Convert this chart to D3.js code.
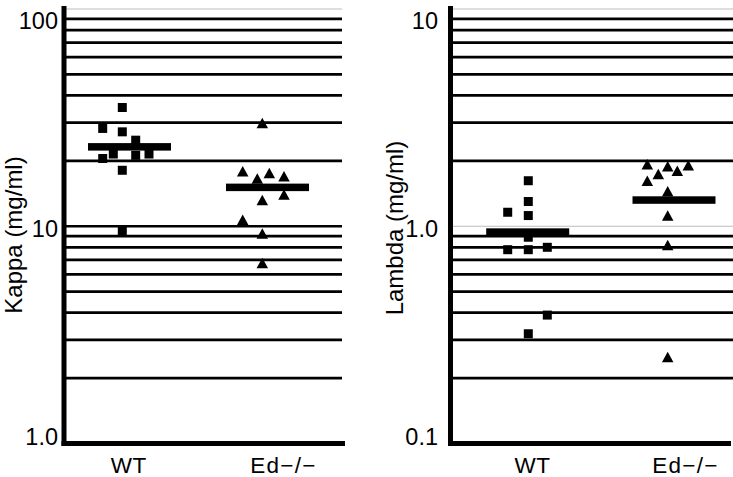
<!DOCTYPE html>
<html>
<head>
<meta charset="utf-8">
<script src="https://cdn.jsdelivr.net/npm/d3@7/dist/d3.min.js"></script>
<style>
  html, body { margin: 0; padding: 0; background: #fff; }
  svg { display: block; }
  text { font-family: "Liberation Sans", Arial, Helvetica, sans-serif; fill: #000; }
</style>
</head>
<body>
<svg id="chart" width="733" height="477"></svg>
<script>
// ---------------- DATA ----------------
const categories = ["WT", "Ed\u2212/\u2212"];

const kappaTickLabels = ["1.0", "10", "100"];
const lambdaTickLabels = ["0.1", "1.0", "10"];

const kappaWT       = [35.2, 28.2, 27.2, 24.9, 21.5, 21.2, 21.5, 20.5, 18.1, 9.5];
const kappaWTJitter = [-0.72, -2.68, -0.72, 0.62, -1.62, 0.62, 1.95, -2.68, -0.72, -0.72];
const kappaEd       = [29.9, 17.9, 16.6, 17.6, 17.0, 13.2, 14.0, 10.7, 9.25, 6.78];
const kappaEdJitter = [-0.52, -2.48, -1.02, 0.18, 1.65, -0.52, 1.65, -2.48, -0.52, -0.52];
const kappaMeans    = [23.2, 15.1];

const lambdaWT       = [1.62, 1.30, 1.16, 1.12, 0.89, 0.78, 0.78, 0.80, 0.39, 0.32];
const lambdaWTJitter = [0.06, 0.06, -2.0, 0.06, 0.06, -2.0, 0.06, 1.96, 1.96, 0.06];
const lambdaEd       = [1.93, 1.89, 1.91, 1.74, 1.80, 1.62, 1.45, 1.12, 0.82, 0.25];
const lambdaEdJitter = [-2.67, -0.63, 1.43, -1.57, 0.33, -2.67, -0.63, -0.63, -0.63, -0.63];
const lambdaMeans    = [0.94, 1.32];

// ---------------- LAYOUT ----------------
const svg = d3.select("#chart");
const TICK_FONT = 23.5, CAT_FONT = 22.5, TITLE_FONT = 24;

const panels = [
  {
    title: "Kappa (mg/ml)", domain: [1, 100], tickLabels: kappaTickLabels,
    wt: kappaWT, wtJ: kappaWTJitter, ed: kappaEd, edJ: kappaEdJitter, means: kappaMeans,
    axisX: 64, baseX0: 61.5, baseX1: 345, gridX1: 342,
    catRange: [129.5, 267.5], labelRange: [128.3, 283],
    tickEnd: 58, titleX: 13.5, titleY: 235, grayDecades: [100]
  },
  {
    title: "Lambda (mg/ml)", domain: [0.1, 10], tickLabels: lambdaTickLabels,
    wt: lambdaWT, wtJ: lambdaWTJitter, ed: lambdaEd, edJ: lambdaEdJitter, means: lambdaMeans,
    axisX: 450.5, baseX0: 448, baseX1: 731, gridX1: 733,
    catRange: [527.7, 674], labelRange: [532, 685],
    tickEnd: 438, titleX: 394, titleY: 228, grayDecades: [1, 10]
  }
];

const yTop = 9, yBottom = 443.5;

// custom symbols (bounding-box centred)
function squarePath(cx, cy, s) {
  const h = s / 2;
  return `M${cx - h},${cy - h}h${s}v${s}h${-s}Z`;
}
function trianglePath(cx, cy, w, h) {
  return `M${cx},${cy - h / 2}L${cx + w / 2},${cy + h / 2}L${cx - w / 2},${cy + h / 2}Z`;
}

panels.forEach(p => {
  const g = svg.append("g");
  const y = d3.scaleLog().domain(p.domain).range([yBottom, yTop]);
  const yLabel = d3.scaleLog().domain(p.domain).range([437, 20.5]);
  const x = d3.scalePoint().domain(categories).range(p.catRange).padding(0);
  const xLabel = d3.scalePoint().domain(categories).range(p.labelRange).padding(0);
  const jitter = d3.scaleLinear().domain([0, 1]).range([0, 10]);

  // gridlines
  const gridVals = y.ticks().filter(v => v > p.domain[0] * 1.0001);
  const isGray = v => p.grayDecades.some(d => Math.abs(v - d) / d < 1e-6);
  g.selectAll("line.grid").data(gridVals).join("line")
    .attr("class", "grid")
    .attr("x1", p.axisX).attr("x2", p.gridX1)
    .attr("y1", d => y(d)).attr("y2", d => y(d))
    .attr("stroke", d => isGray(d) ? "#bdbdbd" : "#000")
    .attr("stroke-width", d => isGray(d) ? 1.2 : 2.7);

  // axis lines
  g.append("line")
    .attr("x1", p.axisX).attr("x2", p.axisX)
    .attr("y1", 6).attr("y2", yBottom + 2.5)
    .attr("stroke", "#000").attr("stroke-width", 5);
  g.append("line")
    .attr("x1", p.baseX0).attr("x2", p.baseX1)
    .attr("y1", yBottom).attr("y2", yBottom)
    .attr("stroke", "#000").attr("stroke-width", 5);

  // y tick labels
  const tickVals = [p.domain[0], p.domain[0] * 10, p.domain[1]];
  const yAxis = d3.axisLeft(yLabel).tickValues(tickVals)
    .tickFormat((d, i) => p.tickLabels[i]).tickSize(0).tickPadding(0);
  const ya = g.append("g").attr("transform", `translate(${p.tickEnd},0)`).call(yAxis);
  ya.select(".domain").remove();
  ya.selectAll("text")
    .style("font-size", TICK_FONT + "px")
    .style("font-family", '"Liberation Sans", Arial, sans-serif')
    .attr("fill", "#000");

  // x labels
  const xAxis = d3.axisBottom(xLabel).tickSize(0).tickPadding(0);
  const xa = g.append("g").attr("transform", `translate(0,${yBottom + 13.5})`).call(xAxis);
  xa.select(".domain").remove();
  xa.selectAll("text")
    .style("font-size", CAT_FONT + "px")
    .style("font-family", '"Liberation Sans", Arial, sans-serif')
    .style("letter-spacing", (d) => d === categories[1] ? "1.3px" : "0.5px")
    .attr("fill", "#000");

  // y title
  g.append("text")
    .attr("transform", `translate(${p.titleX},${p.titleY}) rotate(-90)`)
    .attr("text-anchor", "middle")
    .attr("dy", "0.36em")
    .style("font-size", TITLE_FONT + "px")
    .text(p.title);

  // mean bars
  const barW = 83, barH = 7.5;
  g.selectAll("rect.mean").data(p.means).join("rect")
    .attr("class", "mean")
    .attr("x", (d, i) => x(categories[i]) - barW / 2)
    .attr("y", d => y(d) - barH / 2)
    .attr("width", barW).attr("height", barH)
    .attr("fill", "#000");

  // WT squares
  g.selectAll("path.wt").data(p.wt).join("path")
    .attr("class", "wt")
    .attr("d", (d, i) => squarePath(x(categories[0]) + jitter(p.wtJ[i]), y(d), 9))
    .attr("fill", "#000");

  // Ed triangles
  g.selectAll("path.ed").data(p.ed).join("path")
    .attr("class", "ed")
    .attr("d", (d, i) => trianglePath(x(categories[1]) + jitter(p.edJ[i]), y(d), 11.5, 10.5))
    .attr("fill", "#000");
});
</script>
</body>
</html>
